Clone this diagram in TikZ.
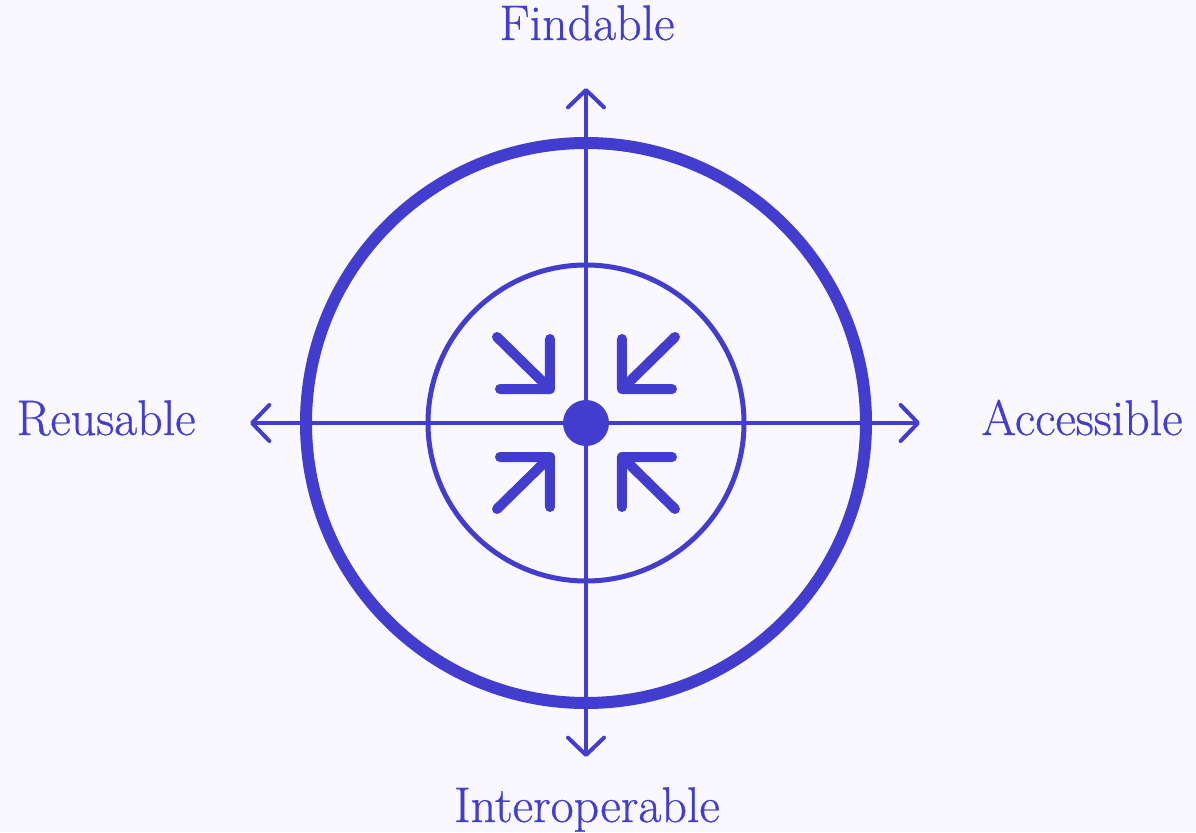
\documentclass[tikz,border=0pt]{standalone}
\usepackage{fontspec}
\usepackage{tikz}
\usetikzlibrary{arrows.meta}
\newfontfamily\labelfont{Latin Modern Roman}[FakeBold=0.6]
\definecolor{fairblue}{RGB}{66, 61, 206}
\definecolor{fairbg}{RGB}{249, 248, 255}

\begin{document}
\begin{tikzpicture}[x=0.75pt, y=0.75pt,
    axis/.style={draw=fairblue, line width=3pt, -{Straight Barb[length=13pt, width=27pt, round]}},
    ring/.style={draw=fairblue, circle},
    label/.style={text=fairblue, anchor=base, font=\labelfont\fontsize{37.5}{42}\selectfont},
    pointer/.style={draw=fairblue, line width=7.5pt, line cap=round, line join=round}]
        % Canvas
        \useasboundingbox[fill=fairbg] (-586, -409) rectangle (610, 423);

        % Rings
        \draw[ring, line width=9pt] (0, 0) circle (280);
        \draw[ring, line width=3.75pt] (0, 0) circle (158);

        % Axis end points
        \coordinate (tipN) at (0, 335);
        \coordinate (tipS) at (0, -334);
        \coordinate (tipE) at (334, 0);
        \coordinate (tipW) at (-336, 0);
        \coordinate (mid) at (0, 0);

        % Axes
        \draw[axis] (mid) -- (tipN);
        \draw[axis] (mid) -- (tipS);
        \draw[axis] (mid) -- (tipE);
        \draw[axis] (mid) -- (tipW);

        % Centre dot
        \node[circle, fill=fairblue, inner sep=0pt, minimum size=34.5pt] (hub) at (mid) {};

        % Inward pointers
        \foreach \sx/\sy in {-1/1, 1/1, -1/-1, 1/-1} {
            \draw[pointer] (89*\sx, 86*\sy) -- (36*\sx, 34*\sy) -- (36*\sx, 84*\sy)
                (36*\sx, 34*\sy) -- (86*\sx, 34*\sy);
        }

        % Labels
        \node[label] (findable) at (1, 383) {Findable};
        \node[label] (reusable) at (-480, -12) {Reusable};
        \node[label] (accessible) at (496, -12) {Accessible};
        \node[label] (interop) at (1, -399) {Interoperable};
    \end{tikzpicture}
\end{document}
